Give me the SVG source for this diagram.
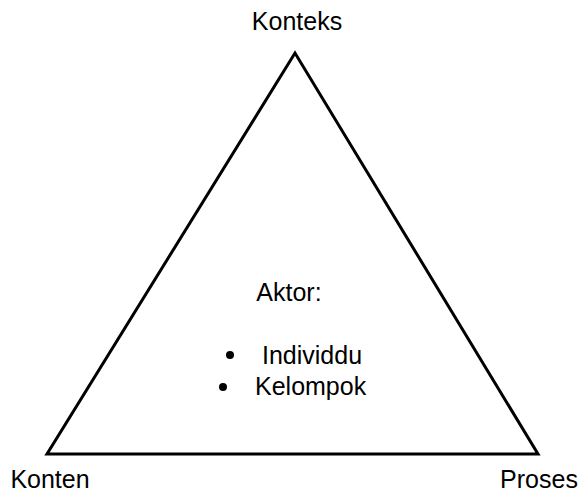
<svg xmlns="http://www.w3.org/2000/svg" width="582" height="492" viewBox="0 0 582 492">
<style>
text{font-family:"Liberation Sans",Arial,sans-serif;font-size:25px;fill:#000}
.edge{fill:none;stroke:#000;stroke-width:3;stroke-linejoin:miter}
</style>
<rect width="582" height="492" fill="#fff"/>
<g id="connectors">
<polygon class="edge" points="295,53 47,454 538,454"/>
</g>
<g id="konteks"><text x="297" y="30" text-anchor="middle">Konteks</text></g>
<g id="konten"><text x="50" y="488" text-anchor="middle">Konten</text></g>
<g id="proses"><text x="539" y="488" text-anchor="middle">Proses</text></g>
<g id="aktor">
<text x="289" y="301" text-anchor="middle">Aktor:</text>
<circle cx="230" cy="355" r="4"/>
<text x="262" y="364">Individdu</text>
<circle cx="223" cy="387" r="4"/>
<text x="255" y="395">Kelompok</text>
</g>
</svg>
